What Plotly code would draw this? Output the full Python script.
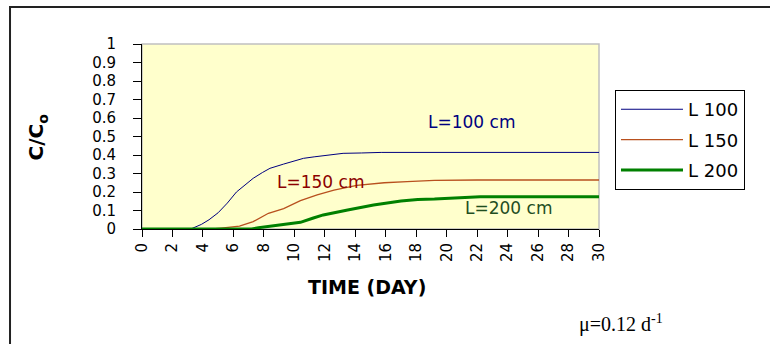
import plotly.graph_objects as go

# Relative concentration C/Co versus time for three column lengths
days_l100 = [0, 3.2, 3.9, 4.4, 5.0, 5.6, 6.2, 6.8, 7.3, 7.9, 8.4, 9.3, 10.0, 10.6,
             11.3, 11.9, 12.5, 13.2, 14.4, 15.7, 30]
conc_l100 = [0, 0, 0.025, 0.05, 0.088, 0.14, 0.20, 0.24, 0.274, 0.305, 0.328, 0.351,
             0.368, 0.382, 0.39, 0.395, 0.402, 0.409, 0.411, 0.414, 0.414]

days_l150 = [0, 4.6, 5.2, 6.4, 7.3, 8.3, 9.3, 10.4, 11.5, 12.6, 14.1, 15.9, 17.4,
             19.2, 22.0, 30]
conc_l150 = [0, 0, 0.005, 0.016, 0.04, 0.085, 0.11, 0.153, 0.184, 0.21, 0.236, 0.25,
             0.256, 0.263, 0.265, 0.265]

days_l200 = [0, 7.2, 7.65, 9.1, 10.4, 11.2, 11.9, 13.5, 15.2, 17.0, 18.1, 19.2,
             22.2, 30]
conc_l200 = [0, 0, 0.007, 0.022, 0.036, 0.058, 0.076, 0.103, 0.13, 0.151, 0.16,
             0.162, 0.175, 0.175]

series_names = ["L 100", "L 150", "L 200"]
curve_labels = ["L=100 cm", "L=150 cm", "L=200 cm"]
label_pos = [(21.66, 0.578), (11.75, 0.254), (24.03, 0.1135)]

line_colors = ["#000080", "#B8501E", "#008000"]
line_widths = [1, 1.3, 3]
label_colors = ["#000080", "#8B0000", "#1F4E1F"]

SANS = "DejaVu Sans"

fig = go.Figure()
for i, (xs, ys) in enumerate([(days_l100, conc_l100), (days_l150, conc_l150),
                              (days_l200, conc_l200)]):
    fig.add_trace(go.Scatter(
        x=xs, y=ys, mode="lines", name=series_names[i],
        legendgroup=series_names[i],
        line=dict(color=line_colors[i], width=line_widths[i]),
    ))

annotations = []
for i, (lx, ly) in enumerate(label_pos):
    annotations.append(dict(
        x=lx, y=ly, xref="x", yref="y", text=curve_labels[i], showarrow=False,
        xanchor="center", yanchor="middle",
        font=dict(family=SANS, size=17, color=label_colors[i]),
    ))

# axis titles and growth-rate note
annotations.append(dict(
    x=-0.2298, y=0.5, xref="paper", yref="paper", text="C/C<sub>o</sub>",
    textangle=-90, showarrow=False, xanchor="center", yanchor="middle",
    font=dict(family=SANS, size=20, color="black", weight="bold"),
))
annotations.append(dict(
    x=0.4924, y=-0.3135, xref="paper", yref="paper", text="TIME (DAY)",
    showarrow=False, xanchor="center", yanchor="middle",
    font=dict(family=SANS, size=19, color="black", weight="bold"),
))
annotations.append(dict(
    x=0.952, y=-0.51, xref="paper", yref="paper", text="μ=0.12 d<sup>-1</sup>",
    showarrow=False, xanchor="left", yanchor="middle",
    font=dict(family="Liberation Serif", size=20, color="black"),
))

shapes = [
    # light grey frame of the plotting area
    dict(type="rect", xref="paper", yref="paper", x0=0, x1=1, y0=0, y1=1,
         line=dict(color="#C0C0C0", width=1.5), layer="below"),
    # outer chart frame
    dict(type="rect", xref="paper", yref="paper", x0=-0.2888, x1=1.5,
         y0=-0.7, y1=1.2, line=dict(color="#222222", width=2)),
]

fig.update_layout(
    width=770, height=344,
    margin=dict(l=142, r=171, t=44, b=115),
    paper_bgcolor="white",
    plot_bgcolor="#FFFFCC",
    font=dict(family=SANS, color="black"),
    showlegend=True,
    legend=dict(
        x=1.035, y=0.751, xanchor="left", yanchor="top",
        bordercolor="black", borderwidth=1, bgcolor="white",
        font=dict(family=SANS, size=18, color="black"),
        tracegroupgap=4, itemwidth=62,
    ),
    annotations=annotations,
    shapes=shapes,
)

fig.update_xaxes(
    range=[0, 30], dtick=2, tick0=0, showgrid=False, zeroline=False,
    showline=True, linecolor="black", linewidth=1,
    ticks="outside", ticklen=7, tickcolor="black", tickangle=-90,
    tickfont=dict(family=SANS, size=15, color="black"),
)
fig.update_yaxes(
    range=[0, 1], dtick=0.1, tick0=0, showgrid=False, zeroline=False,
    showline=True, linecolor="black", linewidth=1,
    ticks="outside", ticklen=8, tickcolor="black",
    ticklabelstandoff=14,
    tickfont=dict(family=SANS, size=15, color="black"),
)

fig.write_html("out.html")
